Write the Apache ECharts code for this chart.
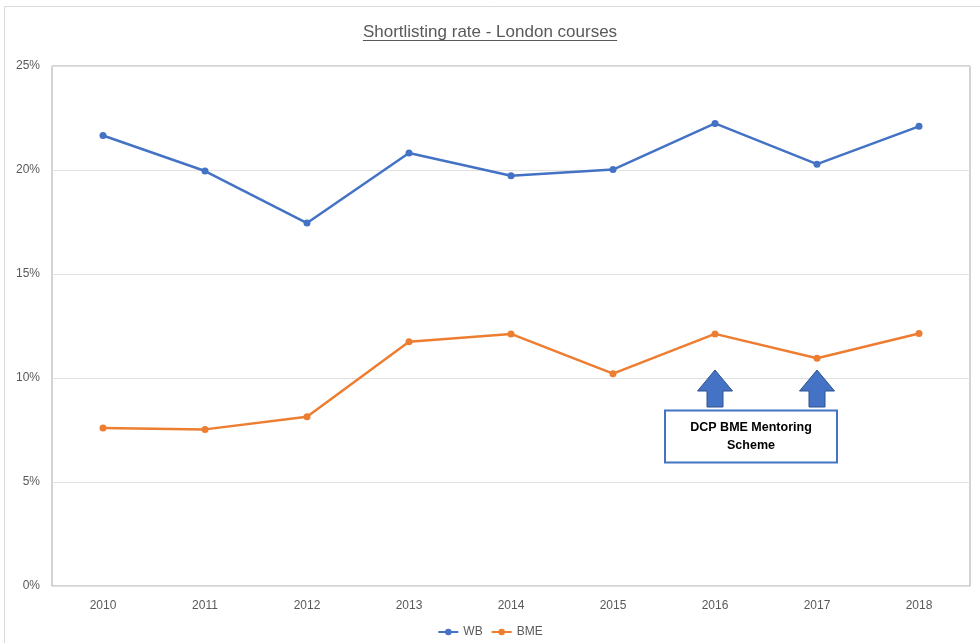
<!DOCTYPE html>
<html>
<head>
<meta charset="utf-8">
<script src="https://cdn.jsdelivr.net/npm/echarts@6/dist/echarts.min.js"></script>
<style>
  html, body { margin: 0; padding: 0; background: #fff; }
  #chart { width: 980px; height: 643px; }
</style>
</head>
<body>
<div id="chart"></div>
<script>
// Shortlisting rate by year, in percent
const years = ['2010', '2011', '2012', '2013', '2014', '2015', '2016', '2017', '2018'];
const wbRate = [21.66, 19.95, 17.45, 20.82, 19.72, 20.02, 22.24, 20.28, 22.10];
const bmeRate = [7.60, 7.53, 8.14, 11.74, 12.12, 10.21, 12.12, 10.95, 12.14];
// Years in which the mentoring scheme ran
const schemeYears = ['2016', '2017'];
const schemeLabel = 'DCP BME Mentoring\nScheme';
const titleText = 'Shortlisting rate - London courses';

const FONT = 'Liberation Sans';
const GREY_TEXT = '#595959';
const TITLE_SIZE = 17;

const chart = echarts.init(document.getElementById('chart'), null, { renderer: 'canvas' });

chart.setOption({
  animation: false,
  backgroundColor: '#ffffff',
  textStyle: { fontFamily: FONT },
  title: {
    text: titleText,
    left: 'center',
    top: 19,
    textStyle: { fontFamily: FONT, fontSize: TITLE_SIZE, fontWeight: 'normal', color: GREY_TEXT }
  },
  legend: {
    bottom: 0,
    left: 'center',
    itemWidth: 20,
    itemHeight: 8,
    itemGap: 8,
    textStyle: { fontFamily: FONT, fontSize: 12, color: GREY_TEXT },
    data: ['WB', 'BME']
  },
  grid: {
    left: 52, right: 10, top: 66, bottom: 57,
    show: true, borderColor: '#a6a6a6', borderWidth: 1
  },
  xAxis: {
    type: 'category',
    data: years,
    boundaryGap: true,
    axisLine: { show: false },
    axisTick: { show: false },
    axisLabel: { fontFamily: FONT, fontSize: 12, color: GREY_TEXT, margin: 14 }
  },
  yAxis: {
    type: 'value',
    min: 0, max: 25, interval: 5,
    axisLine: { show: false },
    axisTick: { show: false },
    splitLine: { lineStyle: { color: '#e0e0e0', width: 1 } },
    axisLabel: { fontFamily: FONT, fontSize: 12, color: GREY_TEXT, margin: 12, formatter: '{value}%' }
  },
  series: [
    {
      name: 'WB', type: 'line', data: wbRate,
      symbol: 'circle', symbolSize: 7,
      itemStyle: { color: '#4472C4' },
      lineStyle: { color: '#4472C4', width: 2.5 }
    },
    {
      name: 'BME', type: 'line', data: bmeRate,
      symbol: 'circle', symbolSize: 7,
      itemStyle: { color: '#ED7D31' },
      lineStyle: { color: '#ED7D31', width: 2.5 }
    }
  ]
});

// Upward block arrow with its tip at (cx, tipY)
function arrowShape(cx, tipY, baseY) {
  const hw = 17.5, sw = 8, headH = 21;
  return [
    [cx, tipY], [cx + hw, tipY + headH], [cx + sw, tipY + headH],
    [cx + sw, baseY], [cx - sw, baseY], [cx - sw, tipY + headH],
    [cx - hw, tipY + headH]
  ];
}

function drawAnnotations() {
  const tipY = 370, baseY = 407;
  const xs = schemeYears.map(y => chart.convertToPixel({ xAxisIndex: 0 }, y));
  const elements = [
    // chart frame
    { type: 'rect', shape: { x: 4.5, y: 6.5, width: 1000, height: 700 },
      style: { fill: 'none', stroke: '#d9d9d9', lineWidth: 1 }, silent: true, z: 0 },
    // title underline
    { type: 'line', id: 'underline', shape: { x1: 0, y1: 0, x2: 0, y2: 0 },
      style: { stroke: GREY_TEXT, lineWidth: 1 }, z: 10 }
  ];
  xs.forEach(x => {
    elements.push({
      type: 'polygon', shape: { points: arrowShape(x, tipY, baseY) },
      style: { fill: '#4472C4', stroke: '#2F528F', lineWidth: 1 }, z: 10
    });
  });
  const boxL = xs[0] - 50, boxR = xs[1] + 20;
  elements.push({
    type: 'rect', shape: { x: boxL, y: 410.5, width: boxR - boxL, height: 52 },
    style: { fill: '#ffffff', stroke: '#4472C4', lineWidth: 2 }, z: 11
  });
  elements.push({
    type: 'text', x: (boxL + boxR) / 2, y: 436.5,
    style: { text: schemeLabel, fontFamily: FONT, fontSize: 12.5, fontWeight: 'bold',
      fill: '#000000', align: 'center', verticalAlign: 'middle', lineHeight: 18 },
    z: 12
  });

  // underline width from the rendered title text
  const ctx = document.createElement('canvas').getContext('2d');
  ctx.font = TITLE_SIZE + 'px "' + FONT + '"';
  const w = ctx.measureText(titleText).width;
  const cx = 980 / 2;
  elements[1].shape = { x1: cx - w / 2, y1: 40.5, x2: cx + w / 2, y2: 40.5 };

  chart.setOption({ graphic: { elements } });
}
drawAnnotations();
</script>
</body>
</html>
